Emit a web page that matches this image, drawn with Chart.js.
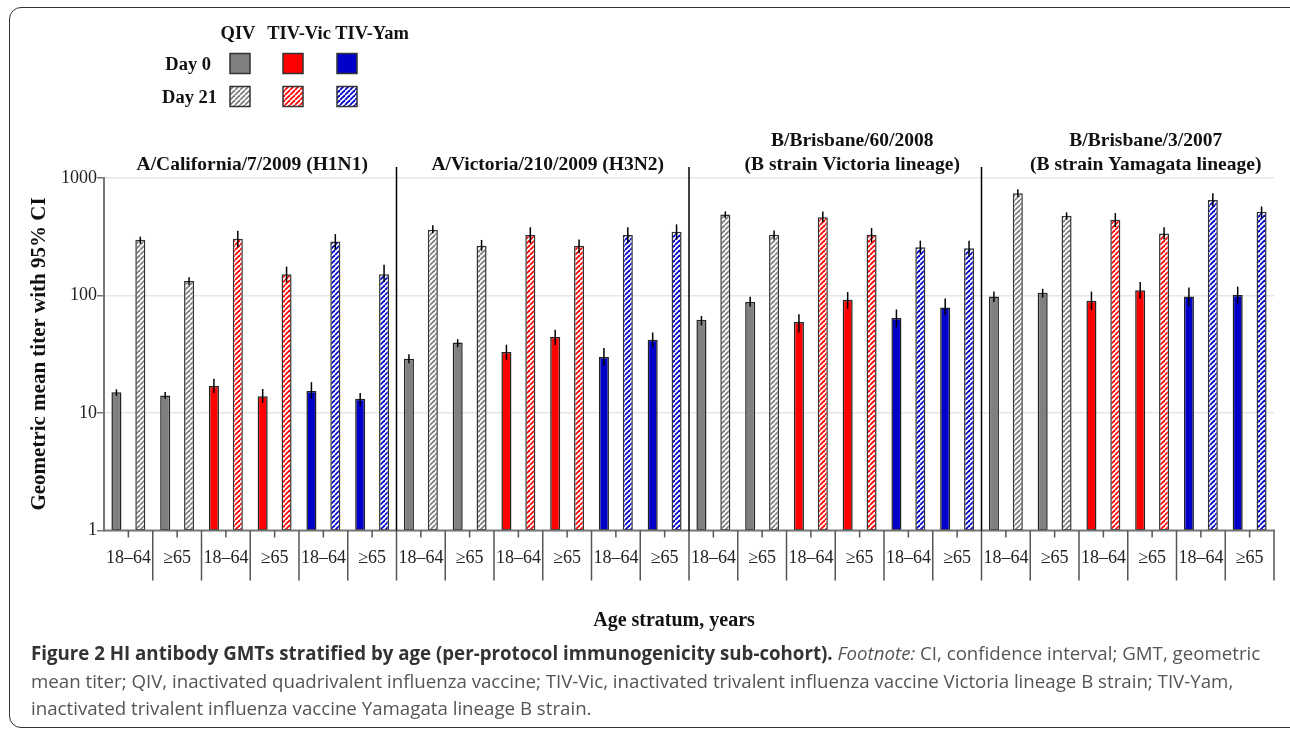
<!DOCTYPE html>
<html>
<head>
<meta charset="utf-8">
<script src="https://cdn.jsdelivr.net/npm/chart.js@4.4.0/dist/chart.umd.min.js"></script>
<style>
	body { margin: 0; background: #fff; width: 1290px; height: 730px; overflow: hidden; position: relative; }
	#frame { position: absolute; left: 9px; top: 7px; width: 1300px; height: 719px; border: 1.5px solid #333; border-radius: 12px; }
	#myChart { position: absolute; left: 0; top: 0; }
	#caption { position: absolute; left: 31px; top: 639px; font-family: "Open Sans", sans-serif; font-size: 18.7px; line-height: 27.5px; color: #555; white-space: nowrap; }
	#caption b { color: #333; }
</style>
</head>
<body>
<div id="frame"></div>
<canvas id="myChart" width="1290" height="640"></canvas>
<div id="caption">
	<b>Figure 2 HI antibody GMTs stratified by age (per-protocol immunogenicity sub-cohort).</b> <i>Footnote:</i> CI, confidence interval; GMT, geometric<br>
	mean titer; QIV, inactivated quadrivalent influenza vaccine; TIV-Vic, inactivated trivalent influenza vaccine Victoria lineage B strain; TIV-Yam,<br>
	inactivated trivalent influenza vaccine Yamagata lineage B strain.
</div>
<script>
	const STRAINS = [
		["A/California/7/2009 (H1N1)"],
		["A/Victoria/210/2009 (H3N2)"],
		["B/Brisbane/60/2008", "(B strain Victoria lineage)"],
		["B/Brisbane/3/2007", "(B strain Yamagata lineage)"]
	];
	const VACCINES = ["QIV", "TIV-Vic", "TIV-Yam"];
	const AGES = ["18–64", "≥65"];
	const DAYS = ["Day 0", "Day 21"];
	const Y_TICKS = [1, 10, 100, 1000];

	// GMT values, order: strain > vaccine > age
	const day0   = [15, 14.1, 17, 13.9, 15.4, 13.2,  28.9, 39.8, 33, 44.3, 29.9, 42,  62.1, 87.9, 59.4, 91.9, 64.2, 79.1,  98, 105.5, 90.2, 111, 98, 101];
	const day0Lo = [14, 13.2, 14.8, 12.2, 13.2, 11.4,  26.5, 36.3, 28.1, 38, 25.2, 36.3,  55.7, 80.6, 48.5, 77, 53.9, 68.1,  88, 96, 75, 94, 82, 85];
	const day0Hi = [15.9, 15.1, 19.6, 16, 18.3, 14.8,  31.7, 42.5, 38.1, 51.1, 35.7, 48.5,  67, 97.8, 69.2, 107, 76, 94.3,  108, 114, 108, 130, 117, 119];
	const day21   = [298, 133, 304, 152, 288, 152,  362, 265, 327, 265, 327, 349,  489, 329, 464, 329, 258, 253,  743, 477, 441, 337, 649, 515];
	const day21Lo = [275, 122, 258, 129, 244, 130,  338, 240, 278, 229, 278, 300,  455, 298, 420, 282, 227, 215,  689, 441, 383, 300, 573, 455];
	const day21Hi = [317, 143, 355, 176, 333, 183,  396, 297, 381, 300, 381, 403,  520, 358, 518, 375, 293, 293,  802, 510, 503, 381, 740, 572];

	const COLORS = ["#808080", "#ff0000", "#0000c8"];
	const SERIF = "'Liberation Serif', 'Times New Roman', serif";

	function stripes(color) {
		let s = 5;
		let c = document.createElement("canvas");
		c.width = s; c.height = s;
		let x = c.getContext("2d");
		x.fillStyle = "#fff";
		x.fillRect(0, 0, s, s);
		x.strokeStyle = color;
		x.lineWidth = 1.8;
		[-s, 0, s].forEach(o => {
			x.beginPath();
			x.moveTo(o, s);
			x.lineTo(o + s, 0);
			x.stroke();
		});
		return x.createPattern(c, "repeat");
	}
	const PATTERNS = COLORS.map(stripes);

	let labels = [];
	let vacIdx = [];
	STRAINS.forEach(() => VACCINES.forEach((v, vi) => AGES.forEach(a => { labels.push(a); vacIdx.push(vi); })));

	const decor = {
		id: "decor",
		afterDatasetsDraw(chart) {
			let ctx = chart.ctx;
			let y = chart.scales.y;
			let lows = [day0Lo, day21Lo], highs = [day0Hi, day21Hi];
			ctx.save();
			ctx.strokeStyle = "#000";
			ctx.lineWidth = 1.5;
			[0, 1].forEach(d => {
				chart.getDatasetMeta(d).data.forEach((el, i) => {
					ctx.beginPath();
					ctx.moveTo(el.x, y.getPixelForValue(lows[d][i]));
					ctx.lineTo(el.x, y.getPixelForValue(highs[d][i]));
					ctx.stroke();
				});
			});
			ctx.restore();
		},
		afterDraw(chart) {
			let ctx = chart.ctx;
			let a = chart.chartArea;
			let n = labels.length;
			let w = (a.right - a.left) / n;
			ctx.save();

			// x axis line, ticks, separators
			ctx.strokeStyle = "#777";
			ctx.lineWidth = 2;
			ctx.beginPath();
			ctx.moveTo(a.left - 1, a.bottom);
			ctx.lineTo(a.right + 1, a.bottom);
			ctx.stroke();
			ctx.lineWidth = 1.5;
			ctx.strokeStyle = "#555";
			for (let i = 0; i < n; i++) {
				let cx = a.left + w * (i + 0.5);
				ctx.beginPath();
				ctx.moveTo(cx, a.bottom);
				ctx.lineTo(cx, a.bottom + 7);
				ctx.stroke();
				let sx = a.left + w * (i + 1);
				ctx.beginPath();
				ctx.moveTo(sx, a.bottom);
				ctx.lineTo(sx, a.bottom + 50);
				ctx.stroke();
			}
			ctx.fillStyle = "#222";
			ctx.font = "18px " + SERIF;
			ctx.textAlign = "center";
			ctx.textBaseline = "middle";
			labels.forEach((l, i) => ctx.fillText(l, a.left + w * (i + 0.5), a.bottom + 28));

			// panel separators
			ctx.strokeStyle = "#000";
			ctx.lineWidth = 1.5;
			for (let p = 1; p < STRAINS.length; p++) {
				let sx = a.left + w * 6 * p;
				ctx.beginPath();
				ctx.moveTo(sx, a.top - 11);
				ctx.lineTo(sx, a.bottom);
				ctx.stroke();
			}

			// panel titles
			let shift = [2, 5, 17, 18];
			ctx.fillStyle = "#111";
			ctx.font = "bold 19.5px " + SERIF;
			STRAINS.forEach((t, p) => {
				let cx = a.left + w * 6 * (p + 0.5) + shift[p];
				t.forEach((line, k) => ctx.fillText(line, cx, a.top - 13 - 24 * (t.length - 1 - k)));
			});

			// axis titles
			ctx.font = "bold 20px " + SERIF;
			ctx.fillText("Age stratum, years", 674, 621);
			ctx.save();
			ctx.translate(40, 354);
			ctx.rotate(-Math.PI / 2);
			ctx.font = "bold 21px " + SERIF;
			ctx.fillText("Geometric mean titer with 95% CI", 0, 0);
			ctx.restore();

			// legend
			ctx.font = "bold 18.5px " + SERIF;
			let colX = [240, 293, 347];
			VACCINES.forEach((v, i) => ctx.fillText(v, [238, 299, 372][i], 34));
			ctx.textAlign = "right";
			DAYS.forEach((d, r) => {
				let yy = 63.5 + r * 33;
				ctx.fillStyle = "#111";
				ctx.fillText(d, r ? 217 : 211, yy + 2);
				VACCINES.forEach((v, i) => {
					ctx.fillStyle = r ? PATTERNS[i] : COLORS[i];
					ctx.fillRect(colX[i] - 10, yy - 10, 20, 20);
					ctx.strokeStyle = "#333";
					ctx.lineWidth = 1.5;
					ctx.strokeRect(colX[i] - 10, yy - 10, 20, 20);
				});
			});
			ctx.restore();
		}
	};

	function createChart() {
		let ctx = document.getElementById("myChart");
		let data = {
			labels: labels,
			datasets: [{
				label: DAYS[0],
				data: day0,
				backgroundColor: vacIdx.map(i => COLORS[i]),
				borderColor: "#222",
				borderWidth: 1.5,
				borderSkipped: false
			}, {
				label: DAYS[1],
				data: day21,
				backgroundColor: vacIdx.map(i => PATTERNS[i]),
				borderColor: "#333",
				borderWidth: 1.5,
				borderSkipped: false
			}]
		};
		new Chart(ctx, {
			type: "bar",
			data: data,
			options: {
				responsive: false,
				animation: false,
				events: [],
				categoryPercentage: 0.98,
				barPercentage: 0.42,
				layout: { padding: { top: 178, right: 16, bottom: 109.5, left: 0 } },
				plugins: { legend: { display: false }, tooltip: { enabled: false } },
				scales: {
					x: { display: false },
					y: {
						type: "logarithmic",
						min: 1,
						max: 1000,
						afterBuildTicks: s => { s.ticks = Y_TICKS.map(v => ({ value: v })); },
						afterFit: s => { s.width = 104; },
						ticks: {
							callback: v => String(v),
							color: "#222",
							font: { family: SERIF, size: 18 },
							padding: 0
						},
						grid: { color: "#e6e6e6", lineWidth: 1.5, tickLength: 7, tickColor: "#777" },
						border: { color: "#777", width: 2 }
					}
				}
			},
			plugins: [decor]
		});
	}
	createChart();
</script>
</body>
</html>
